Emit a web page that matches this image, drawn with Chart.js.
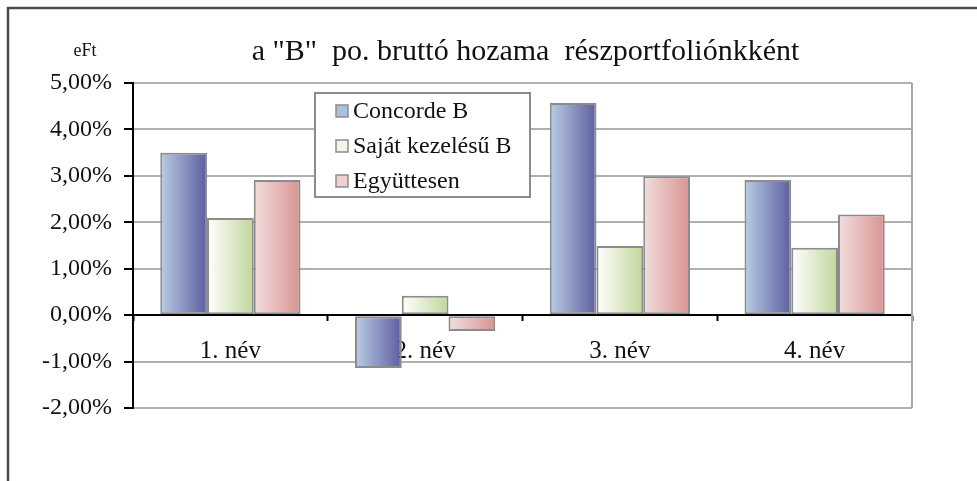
<!DOCTYPE html>
<html>
<head>
<meta charset="utf-8">
<script src="https://cdn.jsdelivr.net/npm/chart.js@4"></script>
<style>
  html, body { margin: 0; padding: 0; background: #fff; }
  #wrap { position: relative; width: 977px; height: 481px; }
</style>
</head>
<body>
<div id="wrap"><canvas id="chart" width="977" height="481"></canvas></div>
<script>
// chart data
const categories = ['1. név', '2. név', '3. név', '4. név'];
const seriesNames = ['Concorde B', 'Saját kezelésű B', 'Együttesen'];
const concorde = [3.50, -1.14, 4.57, 2.91];
const sajat = [2.09, 0.42, 1.49, 1.45];
const egyutt = [2.91, -0.34, 2.99, 2.17];
const yTicks = [-2, -1, 0, 1, 2, 3, 4, 5];
const titleText = 'a "B"  po. bruttó hozama  részportfoliónkként';
const unitText = 'eFt';

// light -> dark horizontal gradients, like the Excel fill
const gradStops = [
    ['#b9cde5', '#5d5e9e'],
    ['#ffffff', '#c2d69a'],
    ['#f3dede', '#d79492']
];
const legendSwatch = ['#a9bfe0', '#f2f5ea', '#efd1d1'];
const serif = '"Liberation Serif", "Times New Roman", serif';

const barGradients = {
    id: 'barGradients',
    beforeDatasetsDraw(chart) {
        const ctx = chart.ctx;
        chart.data.datasets.forEach((ds, di) => {
            chart.getDatasetMeta(di).data.forEach(bar => {
                const { x, width } = bar.getProps(['x', 'width'], true);
                const g = ctx.createLinearGradient(x - width / 2, 0, x + width / 2, 0);
                g.addColorStop(0, gradStops[di][0]);
                g.addColorStop(1, gradStops[di][1]);
                // options objects are shared between bars, so give each its own copy
                bar.options = Object.assign({}, bar.options, { backgroundColor: g });
            });
        });
        // right edge of plot area
        const a = chart.chartArea;
        ctx.save();
        ctx.strokeStyle = '#a6a6a6';
        ctx.lineWidth = 2;
        ctx.beginPath();
        ctx.moveTo(a.right, a.top);
        ctx.lineTo(a.right, a.bottom);
        ctx.stroke();
        ctx.restore();
    }
};

const decorations = {
    id: 'decorations',
    beforeDraw(chart) {
        const ctx = chart.ctx;
        ctx.save();
        ctx.fillStyle = '#fff';
        ctx.fillRect(0, 0, chart.width, chart.height);
        // outer frame (only left and top are visible)
        ctx.strokeStyle = '#4a4a4a';
        ctx.lineWidth = 2.5;
        ctx.beginPath();
        ctx.moveTo(8, chart.height);
        ctx.lineTo(8, 8);
        ctx.lineTo(chart.width, 8);
        ctx.stroke();
        ctx.restore();
    },
    afterDraw(chart) {
        const ctx = chart.ctx;
        const a = chart.chartArea;
        ctx.save();
        ctx.fillStyle = '#111';
        ctx.textBaseline = 'alphabetic';
        ctx.textAlign = 'center';
        ctx.font = '30px ' + serif;
        ctx.fillText(titleText, (a.left + a.right) / 2 + 3, 60);
        ctx.font = '18px ' + serif;
        ctx.fillText(unitText, 85, 56);

        // legend box
        const lx = 315, ly = 93, lw = 215, lh = 104;
        ctx.fillStyle = '#fff';
        ctx.fillRect(lx, ly, lw, lh);
        ctx.strokeStyle = '#8c8c8c';
        ctx.lineWidth = 2;
        ctx.strokeRect(lx, ly, lw, lh);
        const rows = [111, 146, 181];
        ctx.textAlign = 'left';
        ctx.textBaseline = 'middle';
        ctx.font = '24px ' + serif;
        seriesNames.forEach((name, i) => {
            ctx.fillStyle = legendSwatch[i];
            ctx.fillRect(336, rows[i] - 6, 12, 12);
            ctx.strokeStyle = '#8c8c8c';
            ctx.lineWidth = 1.5;
            ctx.strokeRect(336, rows[i] - 6, 12, 12);
            ctx.fillStyle = '#111';
            ctx.fillText(name, 353, rows[i] + 1);
        });
        ctx.restore();
    }
};

const barStyle = { borderColor: '#8c8c8c', borderWidth: 2, borderSkipped: false };

new Chart(document.getElementById('chart'), {
    type: 'bar',
    data: {
        labels: categories,
        datasets: [
            Object.assign({ label: seriesNames[0], data: concorde }, barStyle),
            Object.assign({ label: seriesNames[1], data: sajat }, barStyle),
            Object.assign({ label: seriesNames[2], data: egyutt }, barStyle)
        ]
    },
    options: {
        responsive: false,
        animation: false,
        categoryPercentage: 0.72,
        barPercentage: 1.0,
        layout: { padding: { left: 0, right: 65, top: 83, bottom: 73 } },
        plugins: {
            legend: { display: false },
            title: { display: false },
            tooltip: { enabled: false }
        },
        scales: {
            x: {
                position: { y: 0 },
                z: 1,
                afterFit: s => { s.height = 0; },
                grid: {
                    drawOnChartArea: false,
                    offset: true,
                    tickLength: 5,
                    tickColor: '#000',
                    tickWidth: 2
                },
                border: { color: '#000', width: 2 },
                ticks: {
                    color: '#111',
                    padding: 16,
                    font: { family: serif, size: 25 }
                }
            },
            y: {
                min: -2,
                max: 5,
                afterFit: s => { s.width = 133; },
                afterBuildTicks: s => { s.ticks = yTicks.map(v => ({ value: v })); },
                grid: {
                    color: '#b0b0b0',
                    lineWidth: 2,
                    tickColor: '#000',
                    tickWidth: 2,
                    tickLength: 9
                },
                border: { color: '#000', width: 2 },
                ticks: {
                    color: '#111',
                    padding: 12,
                    font: { family: serif, size: 24 },
                    callback: v => v.toFixed(2).replace('.', ',') + '%'
                }
            }
        }
    },
    plugins: [decorations, barGradients]
});
</script>
</body>
</html>
